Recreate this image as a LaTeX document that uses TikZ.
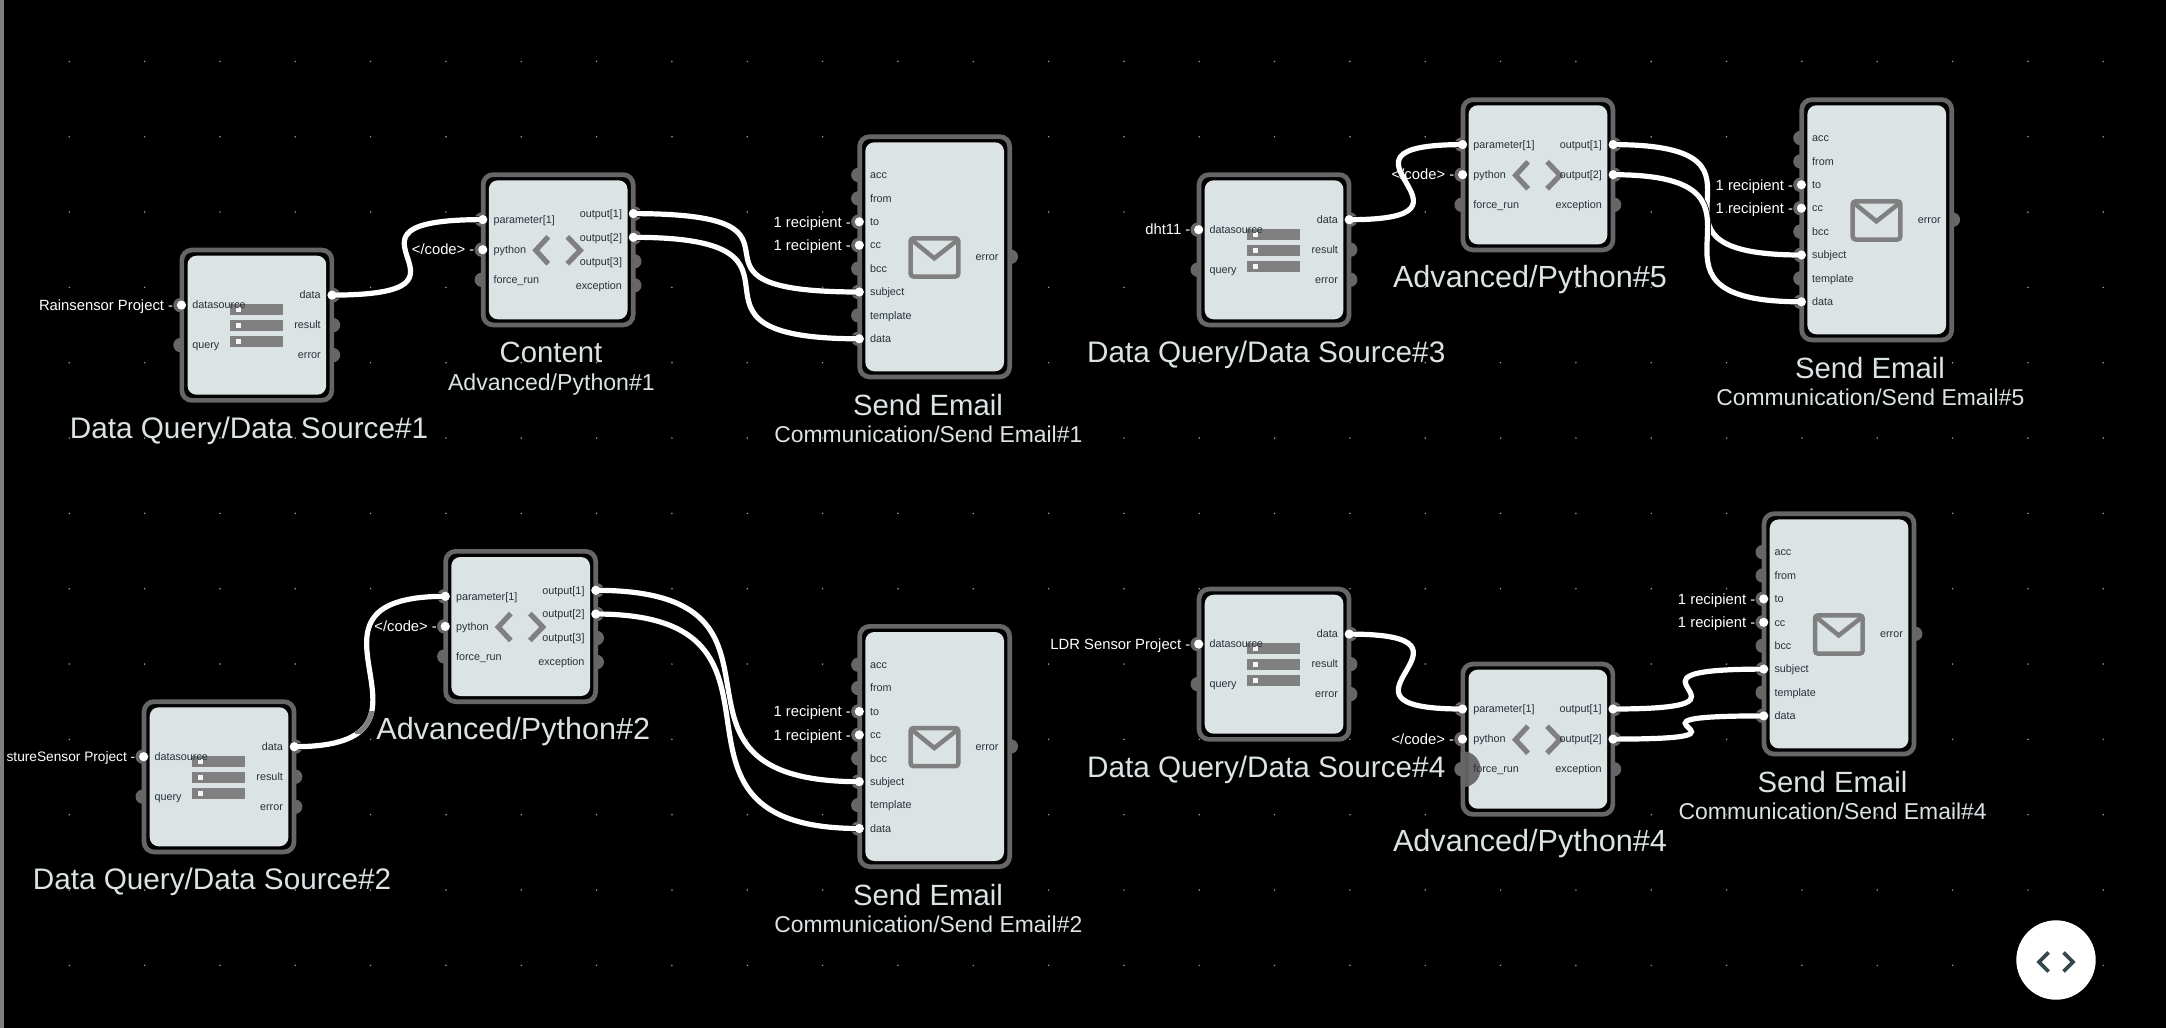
\documentclass[tikz,border=0pt]{standalone}
\usepackage{fontspec}
\setmainfont{Liberation Sans}
\usetikzlibrary{calc}
\definecolor{framec}{HTML}{666666}
\definecolor{fillc}{HTML}{DCE3E5}
\definecolor{iconc}{HTML}{808080}
\definecolor{labelc}{HTML}{263238}
\definecolor{titlec}{HTML}{DCE3E5}
\definecolor{gridc}{HTML}{A0A0A0}
\definecolor{fabc}{HTML}{37474F}
\tikzset{
  x=1pt,y=-1pt,
  frameshape/.style={draw=framec,line width=4.7pt,fill=black,rounded corners=10pt,inner sep=0pt,outer sep=0pt,anchor=north west},
  fillshape/.style={fill=fillc,rounded corners=9pt,inner sep=0pt,outer sep=0pt,anchor=north west},
  portlabel/.style={font=\fontsize{10.8}{12}\selectfont,text=labelc,inner sep=0pt},
  wirelabel/.style={font=\fontsize{14.8}{16}\selectfont,text=white,inner sep=0pt,anchor=base east},
  titlelabel/.style={font=\fontsize{29.3}{32}\selectfont,text=titlec,inner sep=0pt,anchor=base},
  dstitle/.style={titlelabel,font=\fontsize{29.7}{32}\selectfont},
  pytitle/.style={titlelabel,font=\fontsize{30.6}{32}\selectfont},
  sublabel/.style={font=\fontsize{22.9}{25}\selectfont,text=titlec,inner sep=0pt,anchor=base},
  chevron/.style={draw=iconc,line width=5.2pt,miter limit=10},
  wirecase/.style={draw=black,line width=6.6pt},
  wirecore/.style={draw=white,line width=5.2pt},
}
\newcommand\blockhook{}
\newcommand\shell[2]{%
  \node[frameshape,minimum width=150pt,minimum height=#2-4.7pt] (#1) at (2.35,2.35) {};
  \node[fillshape,minimum width=138.7pt,minimum height=#2-16pt] (#1-body) at (8,8) {};
  \blockhook
}
\newcommand\lbump[1]{\fill[framec] (1,#1) circle (7.2pt);}
\newcommand\rbump[1]{\fill[framec] (153.5,#1) circle (7.2pt);}
\newcommand\lpin[4]{%
  \coordinate (#1-#2) at (2,#3);
  \node[portlabel,anchor=base west] (#1-#2-t) at (12.6,#3+3.7) {#4};
}
\newcommand\rpin[4]{%
  \coordinate (#1-#2) at (152.5,#3);
  \node[portlabel,anchor=base east] (#1-#2-t) at (141.4,#3+3.7) {#4};
}
\newcommand\dsblock[3]{%
  \begin{scope}[shift={(#2,#3)}]
    \lbump{57.4}\lbump{97.4}\rbump{47.4}\rbump{77.4}\rbump{107.4}
    \shell{#1}{155pt}
    \foreach \yy in {56.7,72.7,88.7}{
      \fill[iconc] (50.6,\yy) rectangle (103.6,\yy+10.7);
      \fill[white!92!gray] (56.3,\yy+3) rectangle (61.6,\yy+7.7);
    }
    \lpin{#1}{datasource}{57.4}{datasource}%
    \lpin{#1}{query}{97.4}{query}%
    \rpin{#1}{data}{47.4}{data}%
    \rpin{#1}{result}{77.4}{result}%
    \rpin{#1}{error}{107.4}{error}%
  \end{scope}}
\newcommand\pyicon{%
  \draw[chevron] (67.5,64.5) -- (55,78) -- (67.5,91.5);
  \draw[chevron] (86.5,64.5) -- (99.5,78) -- (86.5,91.5);
}
\newcommand\pyleft[1]{%
  \lpin{#1}{parameter}{47.3}{parameter[1]}%
  \lpin{#1}{python}{77.4}{python}%
  \lpin{#1}{force}{107.5}{force\_run}%
}
\newcommand\pyblockthree[3]{%
  \begin{scope}[shift={(#2,#3)}]
    \lbump{47.3}\lbump{77.4}\lbump{107.5}\rbump{41.3}\rbump{65}\rbump{89}\rbump{113}
    \shell{#1}{155pt}
    \pyicon
    \pyleft{#1}%
    \rpin{#1}{outa}{41.3}{output[1]}%
    \rpin{#1}{outb}{65}{output[2]}%
    \rpin{#1}{outc}{89}{output[3]}%
    \rpin{#1}{exc}{113}{exception}%
  \end{scope}}
\newcommand\pyblocktwo[3]{%
  \begin{scope}[shift={(#2,#3)}]
    \lbump{47.3}\lbump{77.4}\lbump{107.5}\rbump{47.3}\rbump{77.4}\rbump{107.5}
    \shell{#1}{155pt}
    \pyicon
    \pyleft{#1}%
    \rpin{#1}{outa}{47.3}{output[1]}%
    \rpin{#1}{outb}{77.4}{output[2]}%
    \rpin{#1}{exc}{107.5}{exception}%
  \end{scope}}
\newcommand\emblock[3]{%
  \begin{scope}[shift={(#2,#3)}]
    \lbump{40.7}\lbump{64.1}\lbump{87.5}\lbump{110.9}\lbump{134.3}\lbump{157.7}\lbump{181.1}\lbump{204.5}\rbump{122.4}
    \shell{#1}{245pt}
    \draw[draw=iconc,line width=4.5pt,rounded corners=3pt] (53.3,104) rectangle (101,142.2);
    \draw[draw=iconc,line width=4.5pt] (55.4,106.4) -- (77,124) -- (99.4,106.4);
    \lpin{#1}{acc}{40.7}{acc}%
    \lpin{#1}{from}{64.1}{from}%
    \lpin{#1}{to}{87.5}{to}%
    \lpin{#1}{cc}{110.9}{cc}%
    \lpin{#1}{bcc}{134.3}{bcc}%
    \lpin{#1}{subject}{157.7}{subject}%
    \lpin{#1}{template}{181.1}{template}%
    \lpin{#1}{data}{204.5}{data}%
    \rpin{#1}{error}{122.4}{error}%
  \end{scope}}
\newcommand\wirepath[2]{let \p1=(#1),\p2=(#2),\n1={100pt+0.5*(\x2-\x1)} in (#1) .. controls +(\n1,0) and +(-\n1,0) .. (#2)}
\newcommand\wire[2]{%
  \draw[wirecase] \wirepath{#1}{#2};
  \draw[wirecore] \wirepath{#1}{#2};
}
\newcommand\wdot[1]{\fill[white] (#1) circle (4.6pt);}
\newcommand\wlabel[3]{\node[wirelabel] (#1) at ($(#2)+(-8.2,5.2)$) {#3};}
\begin{document}
\begin{tikzpicture}
\useasboundingbox (0,0) rectangle (2166,1028);
\fill[black] (0,0) rectangle (2166,1028);
\foreach \i in {0,...,27}{
  \foreach \j in {0,...,12}{
    \fill[gridc] ({69.3+75.33*\i},{61.4+75.33*\j}) circle (0.85pt);
  }
}
\dsblock{dsa}{179.5}{247.7}
\pyblockthree{pya}{480.8}{172.3}
\emblock{ema}{857.3}{134.3}
\dsblock{dsb}{141.7}{699.3}
\pyblockthree{pyb}{443.3}{549}
\emblock{emb}{857.3}{624}
\dsblock{dsc}{1196.7}{172.3}
\pyblocktwo{pye}{1460.6}{97.3}
\emblock{eme}{1799.4}{97.3}
\dsblock{dsd}{1196.7}{586.7}
\renewcommand\blockhook{%
  \begin{scope}
    \clip (0,88) rectangle (22,128);
    \fill[framec,opacity=.95] (2,107.5) circle (18pt);
  \end{scope}}
\pyblocktwo{pyd}{1460.5}{661.7}
\renewcommand\blockhook{}
\emblock{emd}{1761.7}{511.4}
\wire{dsa-data}{pya-parameter}
\wire{pya-outa}{ema-subject}
\wire{pya-outb}{ema-data}
\wire{dsb-data}{pyb-parameter}
\begin{scope}
  \clip (355,711) rectangle (385,733);
  \draw[draw=iconc,line width=5.2pt] \wirepath{dsb-data}{pyb-parameter};
\end{scope}
\wire{pyb-outa}{emb-subject}
\wire{pyb-outb}{emb-data}
\wire{dsc-data}{pye-parameter}
\wire{pye-outa}{eme-subject}
\wire{pye-outb}{eme-data}
\wire{dsd-data}{pyd-parameter}
\wire{pyd-outa}{emd-subject}
\wire{pyd-outb}{emd-data}
\foreach \c in {dsa-datasource,dsa-data,pya-parameter,pya-python,pya-outa,pya-outb,ema-to,ema-cc,ema-subject,ema-data,
  dsb-datasource,dsb-data,pyb-parameter,pyb-python,pyb-outa,pyb-outb,emb-to,emb-cc,emb-subject,emb-data,
  dsc-datasource,dsc-data,pye-parameter,pye-python,pye-outa,pye-outb,eme-to,eme-cc,eme-subject,eme-data,
  dsd-datasource,dsd-data,pyd-parameter,pyd-python,pyd-outa,pyd-outb,emd-to,emd-cc,emd-subject,emd-data}{
  \wdot{\c}
}
\wlabel{la}{dsa-datasource}{Rainsensor Project -}
\wlabel{lb}{pya-python}{</code> -}
\wlabel{lc}{ema-to}{1 recipient -}
\wlabel{ld}{ema-cc}{1 recipient -}
\node[wirelabel,font=\fontsize{13.7}{16}\selectfont] (le) at ($(dsb-datasource)+(-8.2,5.2)$) {stureSensor Project -};
\wlabel{lf}{pyb-python}{</code> -}
\wlabel{lg}{emb-to}{1 recipient -}
\wlabel{lh}{emb-cc}{1 recipient -}
\wlabel{li}{dsc-datasource}{dht11 -}
\wlabel{lj}{pye-python}{</code> -}
\wlabel{lk}{eme-to}{1 recipient -}
\wlabel{ll}{eme-cc}{1 recipient -}
\wlabel{lm}{dsd-datasource}{LDR Sensor Project -}
\wlabel{ln}{pyd-python}{</code> -}
\wlabel{lo}{emd-to}{1 recipient -}
\wlabel{lp}{emd-cc}{1 recipient -}
\node[dstitle] (ta) at (249,438.3) {Data Query/Data Source\#1};
\node[titlelabel] (tb) at (551,362.3) {Content};
\node[sublabel,font=\fontsize{23.1}{25}\selectfont] (tc) at (551.4,390.7) {Advanced/Python\#1};
\node[titlelabel] (td) at (928,415.7) {Send Email};
\node[sublabel] (te) at (928.3,442.7) {Communication/Send Email\#1};
\node[dstitle] (tf) at (212,889.9) {Data Query/Data Source\#2};
\node[pytitle] (tg) at (513.3,739.3) {Advanced/Python\#2};
\node[titlelabel] (th) at (928,905.4) {Send Email};
\node[sublabel] (ti) at (928.3,932.4) {Communication/Send Email\#2};
\node[dstitle] (tj) at (1266.2,362.9) {Data Query/Data Source\#3};
\node[pytitle] (tk) at (1530,287.3) {Advanced/Python\#5};
\node[titlelabel] (tl) at (1870,378.7) {Send Email};
\node[sublabel] (tm) at (1870.3,405.7) {Communication/Send Email\#5};
\node[dstitle] (tn) at (1266.2,777.3) {Data Query/Data Source\#4};
\node[pytitle] (to) at (1530,851.7) {Advanced/Python\#4};
\node[titlelabel] (tp) at (1832.4,792.6) {Send Email};
\node[sublabel] (tq) at (1832.7,819.6) {Communication/Send Email\#4};
\fill[iconc] (0,0) rectangle (4.3,1028);
\node[circle,fill=white,minimum size=79.4pt,inner sep=0pt] (fab) at (2056,960) {};
\draw[draw=fabc,line width=3.7pt] (2048.5,952.5) -- (2039,962) -- (2048.5,971.5);
\draw[draw=fabc,line width=3.7pt] (2063.5,952.5) -- (2073,962) -- (2063.5,971.5);
\end{tikzpicture}
\end{document}
